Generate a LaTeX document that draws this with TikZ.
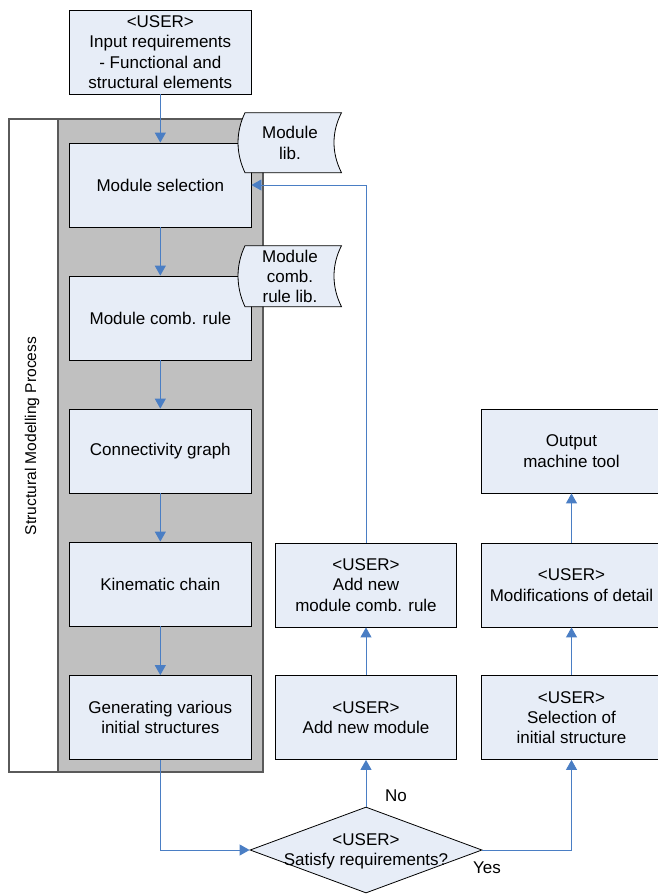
\documentclass[tikz,border=0pt]{standalone}
\usepackage{fontspec}
\setmainfont{Liberation Sans}
\usetikzlibrary{shapes.geometric,arrows.meta}
\definecolor{boxfill}{HTML}{E7EDF7}
\definecolor{grayfill}{HTML}{C0C0C0}
\definecolor{grayline}{HTML}{5A5A5A}
\definecolor{arrowblue}{HTML}{4A7EC4}
\tikzset{
  stepbox/.style={draw=black, line width=0.8pt, fill=boxfill, inner sep=0pt,
    align=center, minimum height=84pt, font=\fontsize{17}{20.3}\selectfont},
  colL/.style={minimum width=181.5pt},
  colM/.style={minimum width=181.5pt},
  colR/.style={minimum width=181pt},
  arr/.style={draw=arrowblue, line width=0.9pt, -{Triangle[width=11pt,length=10pt]}},
  plainline/.style={draw=arrowblue, line width=0.9pt},
  decision/.style={diamond, draw=black, line width=0.8pt, fill=boxfill, inner sep=0pt,
    minimum width=232pt, minimum height=86pt},
  store/.style={draw=black, line width=0.8pt, fill=boxfill},
  txt/.style={align=center, inner sep=0pt, font=\fontsize{17}{20.3}\selectfont},
}
\begin{document}
\begin{tikzpicture}[x=1pt,y=-1pt]
\useasboundingbox (0,0) rectangle (658,894);
% frames
\draw[grayline, line width=1.2pt, fill=white] (9,119) rectangle (263,772);
\draw[grayline, line width=1.5pt, fill=grayfill] (58,119) rectangle (263,772);
\node[txt, rotate=90, font=\fontsize{15.6}{18}\selectfont] (smp) at (32,436) {Structural Modelling Process};
% left column
\node[stepbox, colL] (in) at (160.3,52) {<USER>\\Input requirements\\- Functional and\\structural elements};
\node[stepbox, colL] (ms) at (160.3,185) {Module selection};
\node[stepbox, colL] (mcr) at (160.3,318) {Module comb. rule};
\node[stepbox, colL] (cg) at (160.3,451) {Connectivity graph};
\node[stepbox, colL] (kc) at (160.3,584) {Kinematic chain};
\node[stepbox, colL] (gen) at (160.3,717.5) {Generating various\\initial structures};
% middle column
\node[stepbox, colM] (anmcr) at (366,585) {<USER>\\Add new\\module comb. rule};
\node[stepbox, colM] (anm) at (366,717.5) {<USER>\\Add new module};
% right column
\node[stepbox, colR] (out) at (571.5,451) {Output\\machine tool};
\node[stepbox, colR] (mod) at (571.5,585) {<USER>\\Modifications of detail};
\node[stepbox, colR] (sel) at (571.5,717.5) {<USER>\\Selection of\\initial structure};
% decision
\node[decision] (dia) at (366,850) {};
\node[txt] (diat) at (366,851) {<USER>\\Satisfy requirements?};
\node[txt] (no) at (396,795.5) {No};
\node[txt] (yes) at (487,868) {Yes};
% stored data shapes
\draw[store] (245,112.7) -- (341.5,112.7) .. controls (331.5,132) and (331.5,153) .. (341.5,172.7)
  -- (245,172.7) .. controls (235.7,153) and (235.7,132) .. cycle;
\node[txt] (mlib) at (290,143) {Module\\lib.};
\draw[store] (245,245.7) -- (341.5,245.7) .. controls (331.5,265) and (331.5,287) .. (341.5,306.7)
  -- (245,306.7) .. controls (235.7,287) and (235.7,265) .. cycle;
\node[txt] (mclib) at (290,276.5) {Module\\comb.\\rule lib.};
% connectors
\draw[arr] (in.south) -- (ms.north);
\draw[arr] (ms.south) -- (mcr.north);
\draw[arr] (mcr.south) -- (cg.north);
\draw[arr] (cg.south) -- (kc.north);
\draw[arr] (kc.south) -- (gen.north);
\draw[arr] (gen.south) |- (dia.west);
\draw[arr] (dia.north) -- (anm.south);
\draw[arr] (anm.north) -- (anmcr.south);
\draw[arr] (anmcr.north) |- (ms.east);
\draw[arr] (dia.east) -| (sel.south);
\draw[arr] (sel.north) -- (mod.south);
\draw[arr] (mod.north) -- (out.south);
\end{tikzpicture}
\end{document}
